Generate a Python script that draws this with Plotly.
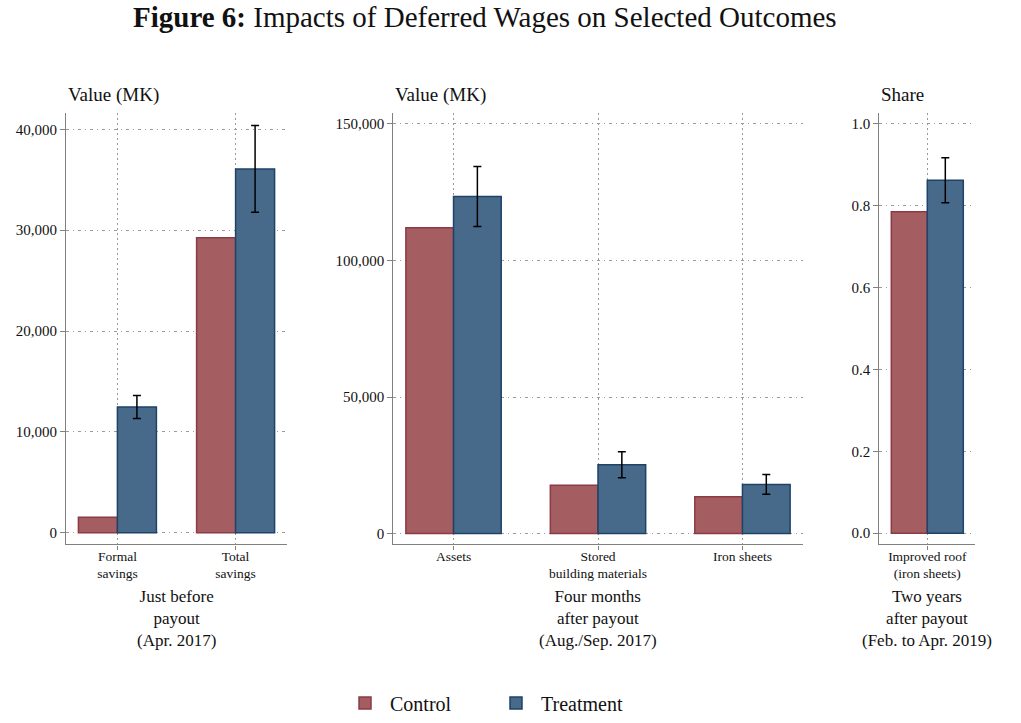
import plotly.graph_objects as go

# ---------------- data ----------------
cats1 = ["Formal<br>savings", "Total<br>savings"]
ctrl1 = [1540, 29250]
treat1 = [12480, 36070]
err1 = [1140, 4300]

cats2 = ["Assets", "Stored<br>building materials", "Iron sheets"]
ctrl2 = [112000, 17700, 13500]
treat2 = [123400, 25200, 18000]
err2 = [11000, 4750, 3600]

cats3 = ["Improved roof<br>(iron sheets)"]
ctrl3 = [0.785]
treat3 = [0.862]
err3 = [0.055]

yticks1 = [0, 10000, 20000, 30000, 40000]
yticks2 = [0, 50000, 100000, 150000]
yticks3 = [0, 0.2, 0.4, 0.6, 0.8, 1.0]

ytitles = ["Value (MK)", "Value (MK)", "Share"]
bottom1 = ["Just before", "payout", "(Apr. 2017)"]
bottom2 = ["Four months", "after payout", "(Aug./Sep. 2017)"]
bottom3 = ["Two years", "after payout", "(Feb. to Apr. 2019)"]

# ---------------- style ----------------
W, H = 1021, 723
FONT = "Liberation Serif"
C_FILL, C_LINE = "#a45e62", "#8c3a45"
T_FILL, T_LINE = "#486a8a", "#1e4268"
AX = "#808080"
GRID = "#9a9a9a"

def px_x(p):
    return p / W

def px_y(p):
    return 1 - p / H

y_dom = [px_y(546), px_y(113.5)]
x_doms = [[px_x(66), px_x(287)], [px_x(393.3), px_x(802.7)], [px_x(879.3), px_x(975.3)]]
x_ranges = [[-0.435, 1.435], [-0.417, 2.417], [-0.44, 0.44]]
y_ranges = [[-1160, 41600], [-3990, 153900], [-0.0277, 1.026]]
y_ticks = [yticks1, yticks2, yticks3]
y_fmts = [",", ",", ".1f"]

panels = [(cats1, ctrl1, treat1, err1), (cats2, ctrl2, treat2, err2), (cats3, ctrl3, treat3, err3)]

fig = go.Figure()
for i, (cats, c, t, e) in enumerate(panels):
    sfx = "" if i == 0 else str(i + 1)
    fig.add_trace(go.Bar(
        x=cats, y=c, name="Control", showlegend=(i == 0), legendgroup="c",
        marker=dict(color=C_FILL, line=dict(color=C_LINE, width=1.5)),
        xaxis="x" + sfx, yaxis="y" + sfx, hoverinfo="skip"))
    fig.add_trace(go.Bar(
        x=cats, y=t, name="Treatment", showlegend=(i == 0), legendgroup="t",
        marker=dict(color=T_FILL, line=dict(color=T_LINE, width=1.5)),
        error_y=dict(type="data", array=e, color="black", thickness=1.5, width=4),
        xaxis="x" + sfx, yaxis="y" + sfx, hoverinfo="skip"))

    xa = dict(domain=x_doms[i], range=x_ranges[i], anchor="y" + sfx,
              showline=True, linecolor=AX, linewidth=1.2,
              showgrid=True, gridcolor=GRID, griddash="2px,3px", gridwidth=1,
              ticks="outside", ticklen=4, tickcolor=AX, ticklabelstandoff=-5,
              tickfont=dict(family=FONT, size=13.5, color="#111"),
              fixedrange=True)
    ya = dict(domain=y_dom, range=y_ranges[i], anchor="x" + sfx,
              tickvals=y_ticks[i], tickformat=y_fmts[i],
              showline=True, linecolor=AX, linewidth=1.2,
              showgrid=True, gridcolor=GRID, griddash="3px,4px,1px,4px", gridwidth=1,
              zeroline=False,
              ticks="outside", ticklen=5, tickcolor=AX,
              tickfont=dict(family=FONT, size=15, color="#111"),
              fixedrange=True)
    fig.update_layout(**{"xaxis" + sfx: xa, "yaxis" + sfx: ya})

annotations = []
# y-axis titles
for i, txt in enumerate(ytitles):
    annotations.append(dict(text=txt, x=x_doms[i][0], y=px_y(95), xref="paper", yref="paper",
                            xanchor="left", yanchor="middle", showarrow=False,
                            font=dict(family=FONT, size=19, color="#111")))
# bottom period labels
for xc, lines in zip([176.5, 598, 927.3], [bottom1, bottom2, bottom3]):
    annotations.append(dict(text="<br>".join(lines), x=px_x(xc), y=px_y(620), xref="paper", yref="paper",
                            xanchor="center", yanchor="middle", showarrow=False, align="center",
                            font=dict(family=FONT, size=17, color="#111")))
# figure title
annotations.append(dict(text="<b>Figure 6:</b> Impacts of Deferred Wages on Selected Outcomes",
                        x=px_x(485), y=px_y(17), xref="paper", yref="paper",
                        xanchor="center", yanchor="middle", showarrow=False,
                        font=dict(family=FONT, size=29, color="#111")))

fig.update_layout(
    width=W, height=H,
    margin=dict(l=0, r=0, t=0, b=0),
    paper_bgcolor="white", plot_bgcolor="white",
    barmode="group", bargap=0.34, bargroupgap=0,
    font=dict(family=FONT, color="#111"),
    annotations=annotations,
    legend=dict(orientation="h", x=px_x(340), xanchor="left", y=px_y(705), yanchor="middle",
                font=dict(family=FONT, size=20, color="#111"), itemwidth=40,
                entrywidth=96, entrywidthmode="pixels"),
    showlegend=True,
)

fig.write_html("out.html", config={"displayModeBar": False},
               post_script="document.body.style.margin='0';")
